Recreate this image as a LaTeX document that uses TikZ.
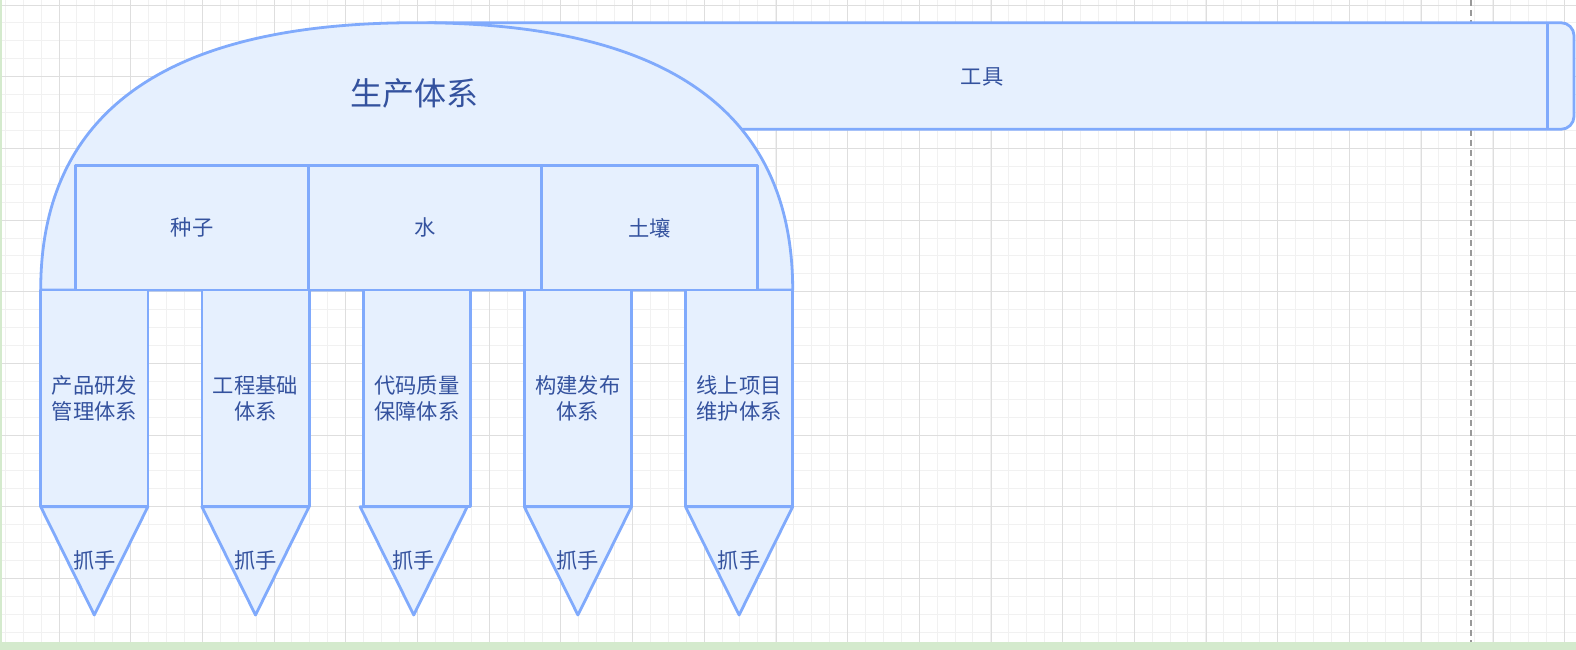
\documentclass[tikz,border=0pt]{standalone}
\usepackage{fontspec}
\newfontfamily\cjk{Noto Sans CJK SC}
\usetikzlibrary{calc}
\definecolor{strokeblue}{HTML}{80AAFC}
\definecolor{fillblue}{HTML}{E6F0FE}
\definecolor{textblue}{HTML}{34529E}
\definecolor{bandgreen}{HTML}{D4EACD}
\definecolor{gridminor}{HTML}{F1F1F1}
\definecolor{gridmajor}{HTML}{DEDEDE}
\tikzset{
  shapestyle/.style={draw=strokeblue, fill=fillblue, line width=2.8pt, line join=round},
  cellbox/.style={shapestyle, rectangle, outer sep=0pt, inner sep=0pt, text=textblue,
     font=\cjk\fontsize{21.3}{25.5}\selectfont, align=center},
  colbox/.style={cellbox, minimum width=107.2pt, minimum height=216.7pt},
  lbl/.style={text=textblue, font=\cjk\fontsize{21.3}{25.5}\selectfont, inner sep=0pt, align=center},
  minorline/.style={draw=gridminor, line width=0.9pt},
  majorline/.style={draw=gridmajor, line width=0.9pt},
}
\begin{document}
\begin{tikzpicture}[x=1pt, y=-1pt]
\useasboundingbox (0,0) rectangle (1576,650);
% background
\fill[white] (0,0) rectangle (1576,650);
\foreach \i in {0,...,88} { \draw[minorline] ({5.2+\i*17.92},0) -- ({5.2+\i*17.92},642); }
\foreach \i in {0,...,36} { \draw[minorline] (0,{5.0+\i*17.92}) -- (1576,{5.0+\i*17.92}); }
\foreach \i in {0,...,21} { \draw[majorline] ({59+\i*71.7},0) -- ({59+\i*71.7},642); }
\foreach \i in {0,...,8} { \draw[majorline] (0,{5.0+\i*71.67}) -- (1576,{5.0+\i*71.67}); }
\fill[bandgreen] (0,642) rectangle (1576,650);
\fill[bandgreen] (0,0) rectangle (2.3,650);
\draw[draw=black!40, line width=1.3pt, dash pattern=on 6pt off 4pt] (1471,0) -- (1471,642);

% tool bar
\node[shapestyle, rectangle, rounded corners=13pt, outer sep=0pt, minimum width=1157.3pt, minimum height=106.6pt] (tool) at (995.35,76) {};
\draw[draw=strokeblue, line width=2.8pt] (1547.7,22.7) -- (1547.7,129.3);
\node[lbl] (toollabel) at (982,77) {工具};

% dome
\draw[shapestyle] (40.7,290) .. controls (40.7,111.8) and (166,22.7) .. (416.7,22.7)
   .. controls (667.4,22.7) and (792.7,111.8) .. (792.7,290) -- cycle;
\node[lbl, font=\cjk\fontsize{32}{38}\selectfont] (dome) at (414,93) {生产体系};

% cells
\node[cellbox, minimum width=233.2pt, minimum height=124.3pt] (seed) at (192.1,227.85) {种子};
\node[cellbox, minimum width=233.1pt, minimum height=124.3pt] (water) at (425.25,227.85) {水};
\node[cellbox, minimum width=215.9pt, minimum height=124.3pt] (soil) at (649.75,227.85) {土壤};

% columns
\node[colbox] (c1) at (94.3,398.35) {产品研发\\管理体系};
\node[colbox] (c2) at (255.5,398.35) {工程基础\\体系};
\node[colbox] (c3) at (416.7,398.35) {代码质量\\保障体系};
\node[colbox] (c4) at (577.9,398.35) {构建发布\\体系};
\node[colbox] (c5) at (739.1,398.35) {线上项目\\维护体系};

\foreach \c/\s in {c1/0, c2/0, c3/-3, c4/0, c5/0} {
  \draw[shapestyle] ($(\c.south west)+(\s,0)$) -- ($(\c.south east)+(\s,0)$) -- ($(\c.south)+(\s,108.3)$) -- cycle;
  \node[lbl] (\c h) at ($(\c.south)+(\s,54)$) {抓手};
}
\end{tikzpicture}
\end{document}
